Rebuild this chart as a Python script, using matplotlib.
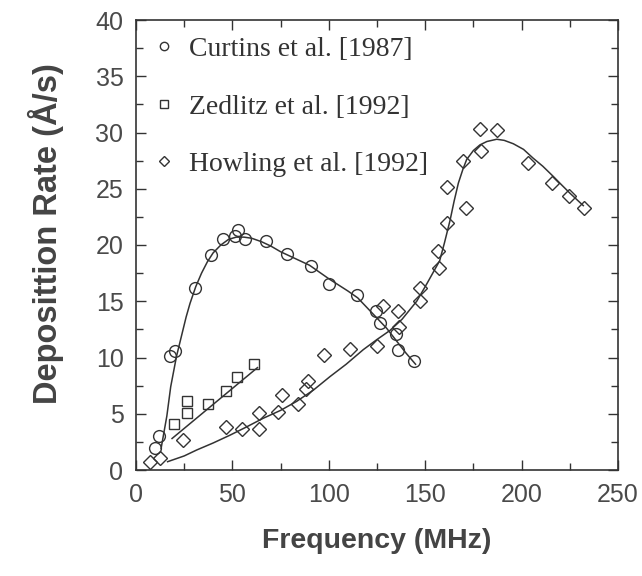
import matplotlib
matplotlib.use("Agg")
import matplotlib.pyplot as plt
from matplotlib.lines import Line2D
from matplotlib.ticker import MultipleLocator

# ---- data ----
curtins_x = [10.0, 12.1, 17.8, 20.4, 30.8, 39.1, 45.2, 51.3, 53.0, 56.5, 67.4, 78.2,
             90.6, 100.3, 114.5, 124.3, 126.6, 134.9, 136.0, 144.2]
curtins_y = [2.0, 3.0, 10.1, 10.6, 16.2, 19.1, 20.5, 20.8, 21.3, 20.5, 20.4, 19.2,
             18.1, 16.5, 15.6, 14.1, 13.1, 12.1, 10.7, 9.7]

zedlitz_x = [19.9, 26.5, 26.5, 37.2, 46.7, 52.4, 61.4]
zedlitz_y = [4.1, 5.1, 6.1, 5.9, 7.0, 8.25, 9.4]

howling_x = [7.3, 12.4, 24.2, 46.7, 55.0, 64.0, 63.6, 73.5, 75.9, 83.9, 88.0, 89.4,
             97.7, 111.0, 124.8, 128.0, 136.0, 136.6, 147.3, 147.5, 157.2, 156.8,
             161.5, 161.2, 171.0, 169.8, 179.1, 178.4, 187.1, 203.2, 216.0, 224.7, 232.5]
howling_y = [0.7, 1.1, 2.7, 3.85, 3.65, 3.65, 5.1, 5.2, 6.7, 5.9, 7.2, 7.9,
             10.2, 10.75, 11.0, 14.6, 14.1, 12.7, 16.2, 15.0, 18.0, 19.5,
             22.0, 25.2, 23.3, 27.5, 28.4, 30.3, 30.2, 27.3, 25.5, 24.4, 23.3]

# fitted curves
curtins_fit_x = [13.0, 16.0, 18.0, 21.0, 24.0, 26.0, 28.0, 31.0, 34.0, 37.0, 40.0, 44.0,
                 48.0, 52.0, 56.0, 60.0, 65.0, 70.0, 75.0, 80.0, 90.0, 100.0, 110.0,
                 115.0, 120.0, 125.0, 130.0, 135.0, 140.0, 145.0]
curtins_fit_y = [1.9, 4.8, 7.4, 10.1, 12.2, 13.6, 14.8, 16.3, 17.5, 18.5, 19.3, 20.0,
                 20.5, 20.7, 20.7, 20.6, 20.3, 19.9, 19.4, 19.0, 18.2, 17.0, 15.9,
                 15.3, 14.4, 13.5, 12.6, 11.5, 10.4, 9.4]

zedlitz_fit_x = [18.7, 63.0]
zedlitz_fit_y = [2.8, 9.1]

howling_fit_x = [16.4, 25.0, 31.5, 40.0, 48.8, 57.0, 66.0, 75.0, 83.3, 92.0, 100.6, 109.0,
                 117.9, 125.0, 131.7, 138.0, 145.6, 151.0, 157.5, 160.0, 162.9, 165.0,
                 167.2, 169.5, 171.5, 175.0, 178.4, 182.0, 187.1, 191.0, 195.7, 201.0,
                 206.1, 211.0, 216.4, 221.0, 225.1, 232.0]
howling_fit_y = [0.74, 1.25, 1.78, 2.4, 3.1, 3.8, 4.6, 5.3, 6.1, 7.1, 8.3, 9.4,
                 10.7, 11.6, 12.4, 13.4, 15.0, 16.6, 18.6, 20.2, 22.2, 23.9,
                 25.5, 26.7, 27.6, 28.4, 28.9, 29.2, 29.4, 29.3, 29.0, 28.5,
                 27.7, 27.0, 26.1, 25.3, 24.6, 23.5]

labels = ["Curtins et al. [1987]", "Zedlitz et al. [1992]", "Howling et al. [1992]"]
markers = ["o", "s", "D"]

# ---- figure ----
fig = plt.figure(figsize=(6.42, 5.76), dpi=100)
ax = fig.add_axes([136/642, 106/576, 482/642, 450/576])

dark = "#333333"
ms_kw = dict(linestyle="none", markerfacecolor="none", markeredgecolor=dark,
             markeredgewidth=1.0)

ax.plot(curtins_x, curtins_y, marker="o", markersize=8.5, **ms_kw)
ax.plot(zedlitz_x, zedlitz_y, marker="s", markersize=7.5, **ms_kw)
ax.plot(howling_x, howling_y, marker="D", markersize=6.8, **ms_kw)

ax.plot(curtins_fit_x, curtins_fit_y, color=dark, lw=1.1)
ax.plot(zedlitz_fit_x, zedlitz_fit_y, color=dark, lw=1.1)
ax.plot(howling_fit_x, howling_fit_y, color=dark, lw=1.1)

ax.set_xlim(0, 250)
ax.set_ylim(0, 40)
ax.xaxis.set_major_locator(MultipleLocator(50))
ax.xaxis.set_minor_locator(MultipleLocator(25))
ax.yaxis.set_major_locator(MultipleLocator(5))
ax.yaxis.set_minor_locator(MultipleLocator(2.5))

ax.tick_params(which="both", direction="in", top=True, right=True,
               color=dark, width=1.0)
ax.tick_params(which="major", length=7)
ax.tick_params(which="minor", length=5)
ax.tick_params(axis="x", which="major", pad=9.5, labelsize=18, labelcolor="#4a4a4a")
ax.tick_params(axis="y", which="major", pad=9, labelsize=18, labelcolor="#4a4a4a")
for lab in ax.get_xticklabels() + ax.get_yticklabels():
    lab.set_family("Liberation Sans")

for s in ax.spines.values():
    s.set_color(dark)
    s.set_linewidth(1.2)

ax.set_xlabel("Frequency (MHz)", family="Liberation Sans", fontweight="bold",
              fontsize=20.5, color="#444444")
ax.xaxis.set_label_coords(0.5, -0.13)
ax.xaxis.label.set_va("top")
ax.set_ylabel("Deposittion Rate (Å/s)", family="Liberation Sans", fontweight="bold",
              fontsize=23.5, color="#444444")
ax.yaxis.set_label_coords(-0.15, 0.525)

handles = [Line2D([], [], marker=m, linestyle="none", markersize=ms,
                  markerfacecolor="none", markeredgecolor=dark, markeredgewidth=1.0)
           for m, ms in zip(markers, [6, 6, 5])]
leg = ax.legend(handles, labels, loc="upper left", frameon=False,
                prop={"family": "Liberation Serif", "size": 20},
                handlelength=0.8, handletextpad=0.5, labelspacing=1.15,
                borderaxespad=0.3, borderpad=0.3)
for t in leg.get_texts():
    t.set_color("#333333")

fig.savefig("out.png", dpi=100)
